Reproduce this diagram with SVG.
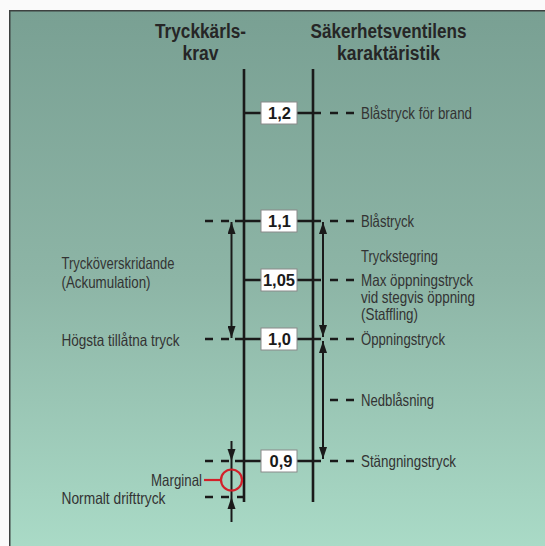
<svg xmlns="http://www.w3.org/2000/svg" width="545" height="546" viewBox="0 0 545 546">
<defs>
<linearGradient id="bg" x1="0" y1="0" x2="0" y2="1">
<stop offset="0" stop-color="#79a093"/>
<stop offset="0.5" stop-color="#8db5a6"/>
<stop offset="1" stop-color="#aadbc7"/>
</linearGradient>
<marker id="ah" markerUnits="userSpaceOnUse" markerWidth="12" markerHeight="8" refX="12" refY="4" orient="auto-start-reverse" viewBox="0 0 12 8">
<path d="M0,0 L12,4 L0,8 z" fill="#1a1a1a"/>
</marker>
<style>
.lbl{font-family:"Liberation Sans Narrow","Liberation Sans",Arial,sans-serif;font-size:16.5px;fill:#333;}
.ttl{font-family:"Liberation Sans Narrow","Liberation Sans",Arial,sans-serif;font-size:20px;font-weight:bold;fill:#262626;text-anchor:middle;}
.num{font-family:"Liberation Sans Narrow","Liberation Sans",Arial,sans-serif;font-size:16.5px;font-weight:bold;fill:#1a1a1a;text-anchor:middle;}
.box{fill:#fff;stroke:#8a8a8a;stroke-width:1;}
.ln{stroke:#1a1a1a;stroke-width:2.6;fill:none;}
.dash{stroke:#1a1a1a;stroke-width:2.6;stroke-dasharray:8 8;fill:none;}
.arr{stroke:#1a1a1a;stroke-width:2;fill:none;}
</style>
</defs>
<rect x="0" y="0" width="545" height="546" fill="#fafafa"/>
<rect x="9.75" y="10.75" width="540" height="540" fill="url(#bg)" stroke="#3d4140" stroke-width="1.5"/>

<g id="titles">
<text class="ttl" x="200.5" y="38" textLength="91" lengthAdjust="spacingAndGlyphs">Tryckkärls-</text>
<text class="ttl" x="200.5" y="60" textLength="36" lengthAdjust="spacingAndGlyphs">krav</text>
<text class="ttl" x="388.5" y="38" textLength="156" lengthAdjust="spacingAndGlyphs">Säkerhetsventilens</text>
<text class="ttl" x="388.5" y="60" textLength="103" lengthAdjust="spacingAndGlyphs">karaktäristik</text>
</g>

<g id="connectors">
<line class="ln" x1="244" y1="69" x2="244" y2="502"/>
<line class="ln" x1="313" y1="69" x2="313" y2="502"/>
<line class="ln" x1="244" y1="113" x2="321" y2="113"/>
<line class="dash" x1="330" y1="113" x2="354" y2="113"/>
<line class="dash" x1="205" y1="221" x2="229" y2="221"/>
<line class="ln" x1="235" y1="221" x2="321" y2="221"/>
<line class="dash" x1="330" y1="221" x2="354" y2="221"/>
<line class="ln" x1="244" y1="280" x2="321" y2="280"/>
<line class="dash" x1="330" y1="280" x2="354" y2="280"/>
<line class="dash" x1="205" y1="339" x2="229" y2="339"/>
<line class="ln" x1="235" y1="339" x2="321" y2="339"/>
<line class="dash" x1="330" y1="339" x2="354" y2="339"/>
<line class="dash" x1="330" y1="400" x2="354" y2="400"/>
<line class="dash" x1="205" y1="461" x2="229" y2="461"/>
<line class="ln" x1="235" y1="461" x2="321" y2="461"/>
<line class="dash" x1="330" y1="461" x2="354" y2="461"/>
<line class="dash" x1="205" y1="497" x2="245" y2="497"/>
<line class="arr" x1="231.5" y1="222" x2="231.5" y2="338" marker-start="url(#ah)" marker-end="url(#ah)"/>
<line class="arr" x1="323" y1="222" x2="323" y2="337" marker-start="url(#ah)" marker-end="url(#ah)"/>
<line class="arr" x1="323" y1="341" x2="323" y2="459" marker-start="url(#ah)" marker-end="url(#ah)"/>
<line class="arr" x1="231.5" y1="441" x2="231.5" y2="522"/>
<path d="M227.5,449 L231.5,461 L235.5,449 z" fill="#1a1a1a"/>
<path d="M227.5,509 L231.5,497 L235.5,509 z" fill="#1a1a1a"/>
<line x1="204" y1="480" x2="221" y2="480" stroke="#d3202a" stroke-width="2.2"/>
<circle cx="231.5" cy="480" r="10.5" fill="none" stroke="#d3202a" stroke-width="2.2"/>
</g>

<g id="n12"><rect class="box" x="261" y="102" width="36" height="22"/><text class="num" x="279.5" y="119">1,2</text></g>
<g id="n11"><rect class="box" x="261" y="210" width="36" height="22"/><text class="num" x="279.5" y="227">1,1</text></g>
<g id="n105"><rect class="box" x="261" y="269" width="36" height="22"/><text class="num" x="279" y="286">1,05</text></g>
<g id="n10"><rect class="box" x="261" y="328" width="36" height="22"/><text class="num" x="279.5" y="345">1,0</text></g>
<g id="n09"><rect class="box" x="261" y="450" width="36" height="22"/><text class="num" x="281" y="467">0,9</text></g>

<g id="labels-right">
<text class="lbl" x="361" y="118.5" textLength="111" lengthAdjust="spacingAndGlyphs">Blåstryck för brand</text>
<text class="lbl" x="361" y="226.5" textLength="53" lengthAdjust="spacingAndGlyphs">Blåstryck</text>
<text class="lbl" x="361" y="262" textLength="77" lengthAdjust="spacingAndGlyphs">Tryckstegring</text>
<text class="lbl" x="361" y="285.5" textLength="112" lengthAdjust="spacingAndGlyphs">Max öppningstryck</text>
<text class="lbl" x="361" y="303" textLength="114" lengthAdjust="spacingAndGlyphs">vid stegvis öppning</text>
<text class="lbl" x="361" y="319.5" textLength="57" lengthAdjust="spacingAndGlyphs">(Staffling)</text>
<text class="lbl" x="361" y="344.5" textLength="84" lengthAdjust="spacingAndGlyphs">Öppningstryck</text>
<text class="lbl" x="361" y="405.5" textLength="73" lengthAdjust="spacingAndGlyphs">Nedblåsning</text>
<text class="lbl" x="361" y="466.5" textLength="95" lengthAdjust="spacingAndGlyphs">Stängningstryck</text>
</g>
<g id="labels-left">
<text class="lbl" x="61.5" y="269" textLength="113" lengthAdjust="spacingAndGlyphs">Trycköverskridande</text>
<text class="lbl" x="61.5" y="288" textLength="89" lengthAdjust="spacingAndGlyphs">(Ackumulation)</text>
<text class="lbl" x="61.5" y="345.5" textLength="118" lengthAdjust="spacingAndGlyphs">Högsta tillåtna tryck</text>
<text class="lbl" x="151" y="485.5" textLength="51" lengthAdjust="spacingAndGlyphs">Marginal</text>
<text class="lbl" x="61.5" y="503.5" textLength="104" lengthAdjust="spacingAndGlyphs">Normalt drifttryck</text>
</g>
</svg>
